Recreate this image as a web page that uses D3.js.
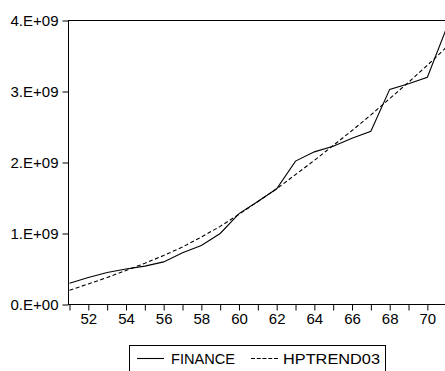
<!DOCTYPE html>
<html>
<head>
<meta charset="utf-8">
<script src="https://cdn.jsdelivr.net/npm/d3@7"></script>
<style>
  html, body { margin: 0; padding: 0; background: #fff; }
  svg { display: block; font-family: "Liberation Sans", Arial, sans-serif; }
</style>
</head>
<body>
<svg id="chart" width="445" height="371"></svg>
<script>
// Years (19xx) on the horizontal axis
const years = [51,52,53,54,55,56,57,58,59,60,61,62,63,64,65,66,67,68,69,70,71];
// FINANCE series
const finance = [0.30e9,0.38e9,0.45e9,0.50e9,0.54e9,0.60e9,0.73e9,0.83e9,1.00e9,1.28e9,1.45e9,1.63e9,2.02e9,2.15e9,2.23e9,2.34e9,2.44e9,3.03e9,3.11e9,3.20e9,3.88e9];
// Hodrick-Prescott trend of FINANCE
const hptrend = [0.20e9,0.29e9,0.38e9,0.48e9,0.58e9,0.69e9,0.81e9,0.95e9,1.10e9,1.27e9,1.45e9,1.63e9,1.83e9,2.03e9,2.24e9,2.45e9,2.67e9,2.90e9,3.13e9,3.37e9,3.62e9];
const yTicks = [0, 1e9, 2e9, 3e9, 4e9];
const yTickLabels = ["0.E+00", "1.E+09", "2.E+09", "3.E+09", "4.E+09"];
const xTickLabels = ["52","54","56","58","60","62","64","66","68","70"];
const seriesNames = ["FINANCE", "HPTREND03"];

const svg = d3.select("#chart");
const x = d3.scaleLinear().domain([51, 71]).range([69.5, 446.2]);
const y = d3.scaleLinear().domain([0, 4e9]).range([304.5, 20.5]);

// plot frame
svg.append("rect")
  .attr("x", 68.5).attr("y", y(4e9))
  .attr("width", 446 - 68.5).attr("height", y(0) - y(4e9))
  .attr("fill", "none").attr("stroke", "#000").attr("stroke-width", 1);

// y axis
const yAxis = d3.axisLeft(y)
  .tickValues(yTicks)
  .tickSize(6).tickPadding(4)
  .tickFormat((d, i) => yTickLabels[i]);
const gy = svg.append("g").attr("transform", "translate(68.5,0)").call(yAxis);
gy.select(".domain").remove();
gy.selectAll("text").attr("font-size", 15).attr("fill", "#000")
  .attr("font-family", "Liberation Sans, Arial, sans-serif");

// x axis: ticks every year, labels on even years
const xAxis = d3.axisBottom(x)
  .tickValues(years)
  .tickSize(6).tickPadding(3)
  .tickFormat(d => xTickLabels.includes(String(d)) ? String(d) : "");
const gx = svg.append("g").attr("transform", `translate(0,${y(0)})`).call(xAxis);
gx.select(".domain").remove();
gx.selectAll("text").attr("font-size", 15).attr("fill", "#000")
  .attr("font-family", "Liberation Sans, Arial, sans-serif");

// series lines
const line = d3.line().x((d, i) => x(years[i])).y(d => y(d));
const plot = svg.append("g");
plot.append("path").datum(finance)
  .attr("d", line).attr("fill", "none")
  .attr("stroke", "#000").attr("stroke-width", 1.1);
plot.append("path").datum(hptrend)
  .attr("d", line).attr("fill", "none")
  .attr("stroke", "#000").attr("stroke-width", 1.1)
  .attr("stroke-dasharray", "4,2.5");

// legend
const lg = svg.append("g");
lg.append("rect").attr("x", 129.5).attr("y", 345.5)
  .attr("width", 256).attr("height", 26)
  .attr("fill", "#fff").attr("stroke", "#000").attr("stroke-width", 1);
lg.append("line").attr("x1", 137).attr("x2", 164).attr("y1", 358.5).attr("y2", 358.5)
  .attr("stroke", "#000").attr("stroke-width", 1.1);
lg.append("text").attr("x", 171).attr("y", 363.5).attr("font-size", 15.5)
  .attr("textLength", 64).attr("lengthAdjust", "spacingAndGlyphs").text(seriesNames[0]);
lg.append("line").attr("x1", 251).attr("x2", 278).attr("y1", 358.5).attr("y2", 358.5)
  .attr("stroke", "#000").attr("stroke-width", 1.1).attr("stroke-dasharray", "4,1.75");
lg.append("text").attr("x", 283).attr("y", 363.5).attr("font-size", 15.5)
  .attr("textLength", 97).attr("lengthAdjust", "spacingAndGlyphs").text(seriesNames[1]);
</script>
</body>
</html>
